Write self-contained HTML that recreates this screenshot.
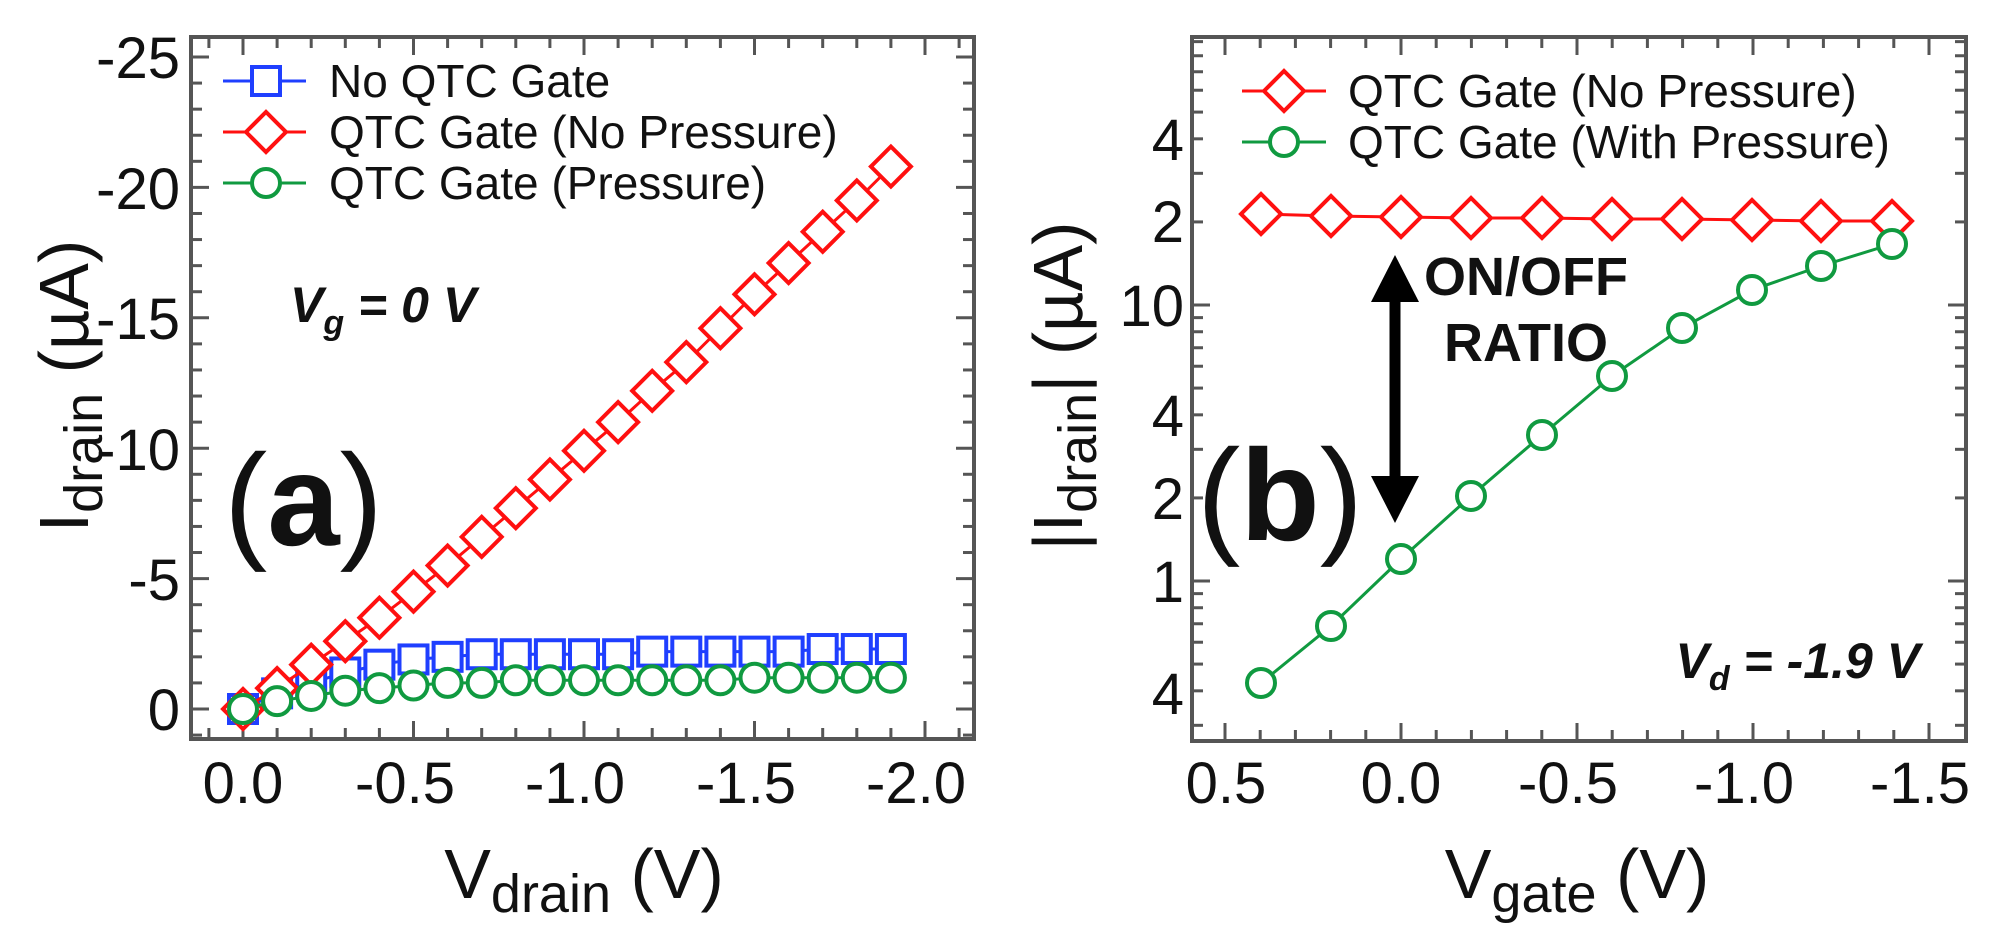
<!DOCTYPE html>
<html><head><meta charset="utf-8"><style>
html,body{margin:0;padding:0;background:#fff;}
svg{display:block;}
text{font-family:"Liberation Sans",Arial,sans-serif;fill:#111;}
</style></head><body>
<svg id="s" width="2013" height="944" viewBox="0 0 2013 944" xmlns="http://www.w3.org/2000/svg">
<g id="ticks" stroke="#555" stroke-width="3"></g>
<rect x="191" y="37" width="783" height="702" fill="none" stroke="#555" stroke-width="4"/>
<rect x="1192" y="37" width="774" height="704" fill="none" stroke="#555" stroke-width="4"/>
<g id="series"></g>

<!-- Panel a tick labels -->
<g font-size="58" text-anchor="end">
<text x="180" y="78">-25</text>
<text x="180" y="209">-20</text>
<text x="180" y="339">-15</text>
<text x="180" y="470">-10</text>
<text x="180" y="600">-5</text>
<text x="180" y="730">0</text>
</g>
<g font-size="58" text-anchor="middle">
<text x="243" y="803">0.0</text>
<text x="405" y="803">-0.5</text>
<text x="575" y="803">-1.0</text>
<text x="746" y="803">-1.5</text>
<text x="916" y="803">-2.0</text>
</g>
<text x="584" y="898" font-size="70" text-anchor="middle">V<tspan font-size="54" dy="14">drain</tspan><tspan dy="-14"> (V)</tspan></text>
<text transform="translate(88,386) rotate(-90)" font-size="70" text-anchor="middle">I<tspan font-size="54" dy="14">drain</tspan><tspan dy="-14"> (µA)</tspan></text>
<g font-size="46">
<text x="329" y="97">No QTC Gate</text>
<text x="329" y="148">QTC Gate (No Pressure)</text>
<text x="329" y="199">QTC Gate (Pressure)</text>
</g>
<text x="290" y="322" font-size="50" font-weight="bold" font-style="italic">V<tspan font-size="34" dy="12">g</tspan><tspan dy="-12"> = 0 V</tspan></text>
<text x="224" y="545" font-size="130">(<tspan font-weight="bold">a</tspan>)</text>

<!-- Panel b -->
<g font-size="58" text-anchor="end">
<text x="1184" y="160">4</text>
<text x="1184" y="242">2</text>
<text x="1184" y="326">10</text>
<text x="1184" y="436">4</text>
<text x="1184" y="519">2</text>
<text x="1184" y="602">1</text>
<text x="1184" y="714">4</text>
</g>
<g font-size="58" text-anchor="middle">
<text x="1226" y="803">0.5</text>
<text x="1401" y="803">0.0</text>
<text x="1568" y="803">-0.5</text>
<text x="1744" y="803">-1.0</text>
<text x="1920" y="803">-1.5</text>
</g>
<text x="1577" y="898" font-size="70" text-anchor="middle">V<tspan font-size="54" dy="14">gate</tspan><tspan dy="-14"> (V)</tspan></text>
<text transform="translate(1082,386) rotate(-90)" font-size="70" text-anchor="middle">|I<tspan font-size="54" dy="14">drain</tspan><tspan dy="-14">| (µA)</tspan></text>
<g font-size="46">
<text x="1348" y="107">QTC Gate (No Pressure)</text>
<text x="1348" y="158">QTC Gate (With Pressure)</text>
</g>
<g font-size="54" font-weight="bold" text-anchor="middle">
<text x="1526" y="295">ON/OFF</text>
<text x="1526" y="361">RATIO</text>
</g>
<text x="1920" y="678" font-size="50" font-weight="bold" font-style="italic" text-anchor="end">V<tspan font-size="34" dy="12">d</tspan><tspan dy="-12"> = -1.9 V</tspan></text>
<text x="1197" y="540" font-size="130">(<tspan font-weight="bold">b</tspan>)</text>
<line x1="1395" y1="295" x2="1395" y2="485" stroke="#000" stroke-width="11"/>
<polygon points="1395,255 1371,302 1419,302" fill="#000"/>
<polygon points="1395,523 1371,476 1419,476" fill="#000"/>
</svg>
<script>
var NS="http://www.w3.org/2000/svg";
function el(p,t,a){var e=document.createElementNS(NS,t);for(var k in a)e.setAttribute(k,a[k]);p.appendChild(e);return e;}
var T=document.getElementById('ticks'),S=document.getElementById('series');
// panel a ticks
for(var i=-1;i<=21;i++){var x=243+34.1*i;if(x<193||x>972)continue;var L=(i%5==0)?18:11;
el(T,'line',{x1:x,y1:739,x2:x,y2:739-L});el(T,'line',{x1:x,y1:37,x2:x,y2:37+L});}
for(var j=-1;j<=26;j++){var y=709-26.08*j;if(y<39||y>737)continue;var L=(j%5==0)?18:11;
el(T,'line',{x1:191,y1:y,x2:191+L,y2:y});el(T,'line',{x1:974,y1:y,x2:974-L,y2:y});}
// panel b ticks
for(var i=-7;i<=15;i++){var x=1401+35.2*i;if(x<1194||x>1964)continue;var L=(i%5==0)?18:11;
el(T,'line',{x1:x,y1:741,x2:x,y2:741-L});el(T,'line',{x1:x,y1:37,x2:x,y2:37+L});}
function ly(v){return 581-276*Math.log10(v);}
for(var d=-2;d<=2;d++)for(var m=1;m<10;m++){var v=m*Math.pow(10,d);var y=ly(v);if(y<39||y>739)continue;var L=(m==1)?18:11;
el(T,'line',{x1:1192,y1:y,x2:1192+L,y2:y});el(T,'line',{x1:1966,y1:y,x2:1966-L,y2:y});}
// markers
function sq(x,y,c){el(S,'rect',{x:x-14,y:y-14,width:28,height:28,fill:'#fff',stroke:c,'stroke-width':4});}
function di(x,y,c){el(S,'polygon',{points:(x-20)+','+y+' '+x+','+(y-20)+' '+(x+20)+','+y+' '+x+','+(y+20),fill:'#fff',stroke:c,'stroke-width':4});}
function ci(x,y,c){el(S,'circle',{cx:x,cy:y,r:14,fill:'#fff',stroke:c,'stroke-width':4});}
function series(pts,c,f){el(S,'polyline',{points:pts.map(function(p){return p.join(',')}).join(' '),fill:'none',stroke:c,'stroke-width':3});pts.forEach(function(p){f(p[0],p[1],c);});}
var R=[0,0.8,1.7,2.6,3.5,4.5,5.5,6.6,7.7,8.8,9.9,11.0,12.2,13.3,14.6,15.9,17.1,18.3,19.5,20.8];
var B=[0,0.6,1.0,1.4,1.7,1.9,2.0,2.1,2.1,2.1,2.1,2.1,2.2,2.2,2.2,2.2,2.2,2.3,2.3,2.3];
var G=[0,0.3,0.5,0.7,0.8,0.9,1.0,1.0,1.1,1.1,1.1,1.1,1.1,1.1,1.1,1.2,1.2,1.2,1.2,1.2];
function pa(a){return a.map(function(v,i){return [243+34.1*i,709-26.08*v];});}
var BLUE='#1f3fff',RED='#ff1010',GREEN='#109a40';
series(pa(B),BLUE,sq);series(pa(R),RED,di);series(pa(G),GREEN,ci);
// legend a
[[81,BLUE,sq],[132,RED,di],[183,GREEN,ci]].forEach(function(r){el(S,'line',{x1:223,y1:r[0],x2:306,y2:r[0],stroke:r[1],'stroke-width':3});r[2](266,r[0],r[1]);});
// panel b series
var rx=[1261,1331,1401,1471,1542,1612,1682,1752,1821,1892];
var ry=[214,216,217,218,218,219,219,220,221,221];
var gy=[683,626,559,496,435,376,328,290,266,244];
series(rx.map(function(x,i){return [x,ry[i]];}),RED,di);
series(rx.map(function(x,i){return [x,gy[i]];}),GREEN,ci);
[[91,RED,di],[142,GREEN,ci]].forEach(function(r){el(S,'line',{x1:1242,y1:r[0],x2:1326,y2:r[0],stroke:r[1],'stroke-width':3});r[2](1284,r[0],r[1]);});
</script>
</body></html>
